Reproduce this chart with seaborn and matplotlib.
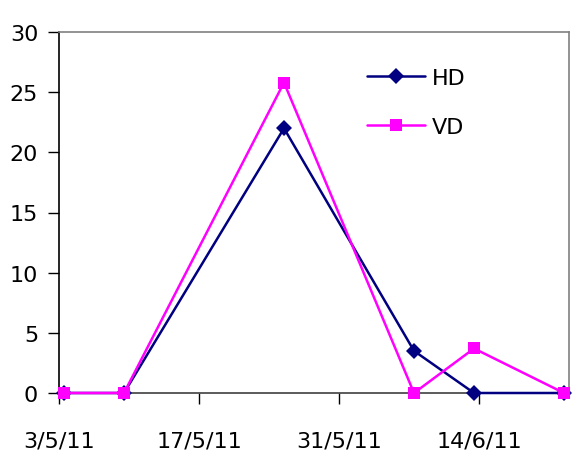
import matplotlib
matplotlib.use("Agg")
import matplotlib.pyplot as plt
import seaborn as sns
import pandas as pd

dates = ["2011-05-03", "2011-05-09", "2011-05-25", "2011-06-07", "2011-06-13", "2011-06-22"]
hd = [0, 0, 22, 3.5, 0, 0]
vd = [0, 0, 25.8, 0, 3.7, 0]
tick_dates = ["2011-05-03", "2011-05-17", "2011-05-31", "2011-06-14"]
tick_labels = ["3/5/11", "17/5/11", "31/5/11", "14/6/11"]
y_ticks = [0, 5, 10, 15, 20, 25, 30]

sns.set_theme(style="white")
plt.rcParams["font.family"] = ["DejaVu Sans"]
plt.rcParams["text.color"] = "black"
plt.rcParams["xtick.color"] = "black"
plt.rcParams["ytick.color"] = "black"

half = pd.Timedelta(hours=12)
x = pd.to_datetime(dates) + half
df = pd.DataFrame({"date": list(x) * 2, "value": hd + vd,
                   "series": ["HD"] * len(hd) + ["VD"] * len(vd)})

fig = plt.figure(figsize=(5.73, 4.56), dpi=100)
ax = fig.add_axes([59 / 573, 62 / 456, 510 / 573, 361 / 456])

sns.lineplot(data=df, x="date", y="value", hue="series", style="series",
             palette={"HD": "#000080", "VD": "#FF00FF"},
             markers={"HD": "D", "VD": "s"}, dashes=False,
             markersize=8.5, linewidth=1.8, markeredgewidth=0, ax=ax,
             clip_on=False, zorder=3)

ax.set_xlim(pd.Timestamp("2011-05-03"), pd.Timestamp("2011-06-23"))
ax.set_ylim(0, 30)
ax.set_yticks(y_ticks)
ax.set_yticklabels([str(v) for v in y_ticks], fontsize=16)
ax.set_xticks(pd.to_datetime(tick_dates))
ax.set_xticklabels(tick_labels, fontsize=16)
ax.set_xlabel("")
ax.set_ylabel("")

ax.tick_params(axis="y", direction="out", length=8, width=1, color="black", pad=7, left=True)
ax.tick_params(axis="x", direction="out", length=8, width=1, color="black", pad=19, bottom=True)

ax.spines["left"].set_color("black")
ax.spines["left"].set_linewidth(1.2)
ax.spines["bottom"].set_color("#404040")
ax.spines["bottom"].set_linewidth(1.2)
for s in ["top", "right"]:
    ax.spines[s].set_color("#808080")
    ax.spines[s].set_linewidth(1.2)

leg = ax.legend(loc="upper left", bbox_to_anchor=(0.565, 0.955), frameon=False,
                fontsize=16, handlelength=2.6, handletextpad=0.3, labelspacing=1.3)
for h in leg.legend_handles:
    h.set_markersize(8.5)

fig.savefig("out.png", dpi=100)
